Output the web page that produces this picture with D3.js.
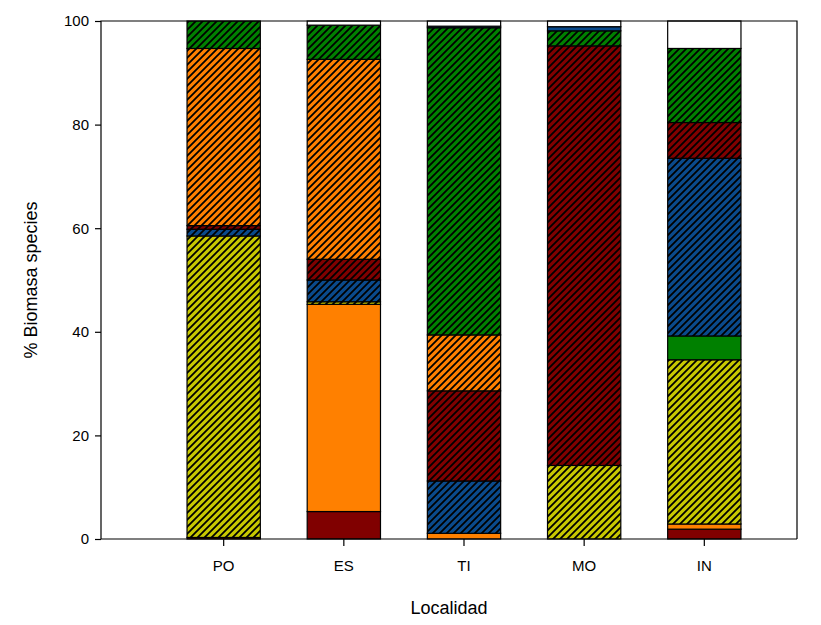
<!DOCTYPE html>
<html><head><meta charset="utf-8">
<script src="https://cdn.jsdelivr.net/npm/d3@7"></script>
<style>body{margin:0;background:#fff}svg{display:block}text{font-family:Arial,"Liberation Sans",sans-serif}</style>
</head><body><svg id="c" width="821" height="625"></svg>
<script>
const categories = ["PO","ES","TI","MO","IN"];
const seriesNames = ["s1","s2","s3","s4","s5","s6","s7","s8","s9","s10"];
const s1 = [0.3, 5.3, 0, 0, 1.9];        // dark red solid
const s2 = [0, 40.0, 1.1, 0, 1.0];       // orange solid
const s3 = [58.2, 0.5, 0, 14.2, 31.7];   // yellow hatched
const s4 = [0, 0, 0, 0, 4.6];            // green solid
const s5 = [1.3, 4.2, 10.1, 0, 34.3];    // blue hatched
const s6 = [0.7, 4.0, 17.4, 81.0, 6.9];  // dark red hatched
const s7 = [34.2, 38.6, 10.8, 0, 0];     // orange hatched
const s8 = [5.3, 6.6, 59.3, 2.9, 14.3];  // green hatched
const s9 = [0, 0, 0.3, 0.8, 0];          // blue solid
const s10 = [0, 0.8, 1.0, 1.1, 5.3];     // white (other)
const yTicks = [0,20,40,60,80,100];

const seriesVals = [s1,s2,s3,s4,s5,s6,s7,s8,s9,s10];
const colors = ["#800000","#ff8000","#c8c800","#008000","#0a4a8c","#800000","#ff8000","#008000","#0a4a8c","#ffffff"];
const hatched = [false,false,true,false,true,true,true,true,false,false];

const svg = d3.select("#c");
const m = {l:101, r:797, t:21, b:539};
const x = d3.scaleBand().domain(categories).range([163, 765]).paddingInner(0.39).paddingOuter(0.2);
const y = d3.scaleLinear().domain([0,100]).range([m.b, m.t]);

const defs = svg.append("defs");
colors.forEach((c,i)=>{
  if(!hatched[i]) return;
  const p = defs.append("pattern").attr("id","h"+i).attr("patternUnits","userSpaceOnUse")
    .attr("width",7).attr("height",7);
  p.append("rect").attr("width",7).attr("height",7).attr("fill",c);
  p.append("path").attr("d","M-1,8 L8,-1 M-2,2 L2,-2 M5,9 L9,5").attr("stroke","#000").attr("stroke-width",1.8);
});

const table = categories.map((c,j)=>{ const o={cat:c}; seriesNames.forEach((n,i)=>o[n]=seriesVals[i][j]); return o; });
const stack = d3.stack().keys(seriesNames)(table);

const g = svg.append("g");
stack.forEach((layer,i)=>{
  g.selectAll(null).data(layer.filter(d=>d[1]-d[0]>0)).enter().append("rect")
    .attr("x",d=>x(d.data.cat)).attr("width",x.bandwidth())
    .attr("y",d=>y(Math.min(d[1],100))).attr("height",d=>y(d[0])-y(Math.min(d[1],100)))
    .attr("fill",hatched[i]?`url(#h${i})`:colors[i])
    .attr("stroke","#000").attr("stroke-width",1.2);
});

// frame
svg.append("path").attr("d",`M${m.l},${m.b} L${m.l},${m.t} L${m.r},${m.t} L${m.r},${m.b}`)
  .attr("fill","none").attr("stroke","#000").attr("stroke-width",1.2);

const ya = svg.append("g").attr("transform",`translate(${m.l},0)`)
  .call(d3.axisLeft(y).tickValues(yTicks).tickSize(6).tickPadding(6));
const xa = svg.append("g").attr("transform",`translate(0,${m.b})`)
  .call(d3.axisBottom(x).tickSize(7).tickPadding(14));
[ya,xa].forEach(a=>{
  a.select(".domain").remove();
  a.selectAll("text").attr("font-size",15).attr("fill","#000").attr("font-family","Arial, 'Liberation Sans', sans-serif");
  a.selectAll("line").attr("stroke","#000").attr("stroke-width",1.2);
});
svg.append("line").attr("x1",m.l).attr("x2",m.r).attr("y1",m.b).attr("y2",m.b).attr("stroke","#000").attr("stroke-width",1.2);

svg.append("text").attr("x",449).attr("y",614).attr("text-anchor","middle").attr("font-size",18).text("Localidad");
svg.append("text").attr("transform","translate(37,280) rotate(-90)").attr("text-anchor","middle").attr("font-size",18).text("% Biomasa species");
</script></body></html>
